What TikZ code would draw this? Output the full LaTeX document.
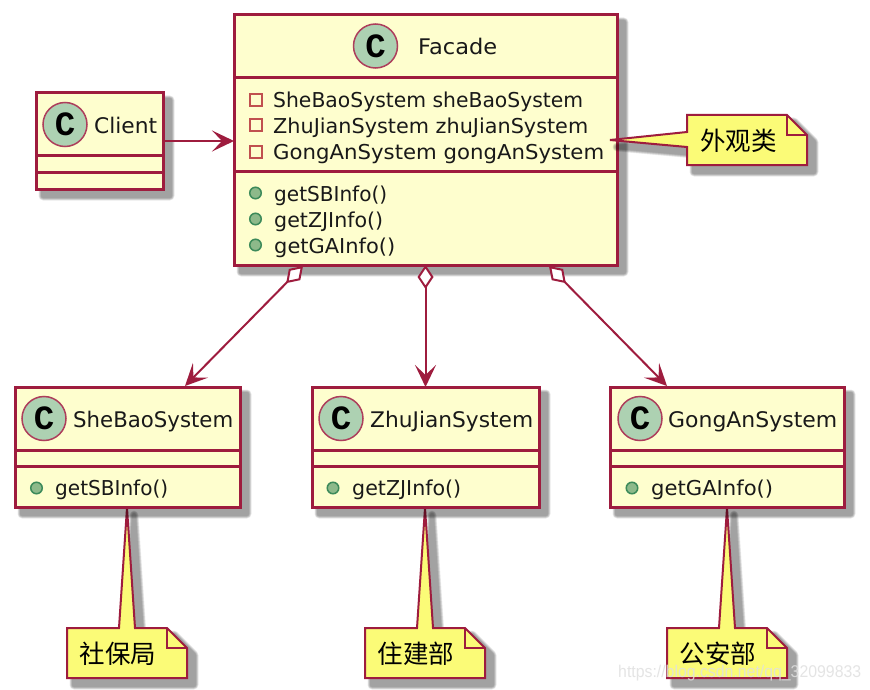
\documentclass[tikz,border=0pt]{standalone}
\usepackage{graphicx}
\usepackage{fontspec}
\setmainfont{DejaVu Sans}
\newfontfamily\cjk{Noto Sans CJK SC}
\newfontfamily\spotfont{Liberation Mono}
\newfontfamily\markfont{Liberation Sans}
\usetikzlibrary{arrows.meta}
\definecolor{umlred}{HTML}{9E1C3E}
\definecolor{classbg}{HTML}{FEFECE}
\definecolor{notebg}{HTML}{FBFB77}
\definecolor{spotbg}{HTML}{ADD1B2}
\definecolor{privred}{HTML}{C0504F}
\definecolor{pubgreen}{HTML}{8DB98A}
\definecolor{pubedge}{HTML}{3C8A5A}
\tikzset{
  x=1pt,y=-1pt,
  classbox/.style={draw=umlred,fill=classbg,line width=3pt,anchor=north west,inner sep=0pt,outer sep=0pt},
  sepline/.style={draw=umlred,line width=3pt},
  notebody/.style={draw=umlred,fill=notebg,line width=2pt,line join=miter},
  notetext/.style={font=\cjk\fontsize{25.5}{25.5}\selectfont,anchor=center,inner sep=0pt},
  label/.style={font=\fontsize{20.5}{24}\selectfont,anchor=base west,inner sep=0pt,text=black!90},
  title/.style={label,font=\fontsize{21.5}{24}\selectfont},
  spot/.style={circle,draw=umlred!85,fill=spotbg,line width=1.5pt,minimum size=44pt,inner sep=0pt,font=\spotfont\bfseries\fontsize{34}{34}\selectfont},
  privmark/.style={draw=privred,line width=2pt,minimum size=12pt,inner sep=0pt},
  pubmark/.style={circle,draw=pubedge,fill=pubgreen,line width=1.5pt,minimum size=11.5pt,inner sep=0pt},
  assoc/.style={draw=umlred,line width=2pt},
  headtip/.style={-{Stealth[length=22pt,width=21pt,inset=10pt,fill=umlred]}},
  aggtip/.style={{Diamond[open,length=24pt,width=16pt,fill=white,line width=2pt]}-{Stealth[length=22pt,width=21pt,inset=10pt,fill=umlred]}},
}
\newcommand\fitw[2]{\resizebox{#1pt}{\height}{#2}}
\newcommand\softshadow[1]{%
  \foreach \w in {9,8,7,6,5,4}{%
    \begin{scope}[transparency group,opacity=.07]
    \path[fill=black,draw=black,line width=\w pt,line join=round,shift={(7,7)}] #1;
    \end{scope}}}
\newcommand\umlclass[7]{% name x1 y1 x2 y2 sep1 sep2
  \softshadow{(#2,#3) rectangle (#4,#5)}
  \pgfmathsetmacro\bw{#4-#2}\pgfmathsetmacro\bh{#5-#3}
  \node[classbox,minimum width=\bw pt,minimum height=\bh pt] (#1) at (#2,#3) {};
  \draw[sepline] (#2,#6) -- (#4,#6);
  \draw[sepline] (#2,#7) -- (#4,#7);
}
\newcommand\bottomnote[3]{% name x text
  \softshadow{(#2,628) -- (#2+52,628) -- (#2+60,508) -- (#2+68,628) -- (#2+100,628) -- (#2+120,648) -- (#2+120,678) -- (#2,678) -- cycle}
  \draw[notebody] (#2,628) -- (#2+52,628) -- (#2+60,508) -- (#2+68,628) -- (#2+100,628) -- (#2+120,648) -- (#2+120,678) -- (#2,678) -- cycle;
  \draw[notebody,fill=none] (#2+100,628) -- (#2+100,648) -- (#2+120,648);
  \node[notetext] (#1) at (#2+51,654) {#3};
}
\begin{document}
\begin{tikzpicture}
\useasboundingbox (0,0) rectangle (870,690);
\fill[white] (0,0) rectangle (870,690);

% bottom notes first (their tails run behind the classes)
\bottomnote{noteSB}{67}{社保局}
\bottomnote{noteZJ}{365}{住建部}
\bottomnote{noteGA}{667}{公安部}

% classes
\umlclass{facade}{234}{15}{617}{265}{78}{171}
\umlclass{client}{36}{93}{163}{189}{156}{172}
\umlclass{shebao}{15}{387}{240}{507}{450}{466}
\umlclass{zhujian}{312}{387}{539}{507}{450}{466}
\umlclass{gongan}{610}{387}{844}{507}{450}{466}

% spots
\node[spot] (spotF) at (375.5,46) {C};
\node[spot] (spotC) at (65,124.5) {C};
\node[spot] (spotS) at (44,418.5) {C};
\node[spot] (spotZ) at (341,418.5) {C};
\node[spot] (spotG) at (640,418.5) {C};

% class names
\node[title] (nF) at (418,55) {\fitw{79}{Facade}};
\node[title] (nC) at (94,133) {\fitw{63}{Client}};
\node[title] (nS) at (73,427) {\fitw{160}{SheBaoSystem}};
\node[title] (nZ) at (370,427) {\fitw{163}{ZhuJianSystem}};
\node[title] (nG) at (668,427) {\fitw{169}{GongAnSystem}};

% Facade fields
\node[privmark] (pf1) at (255.5,100.5) {};
\node[privmark] (pf2) at (255.5,125.5) {};
\node[privmark] (pf3) at (255.5,151.7) {};
\node[label] (tf1) at (273,108) {\fitw{310}{SheBaoSystem sheBaoSystem}};
\node[label] (tf2) at (273,134) {\fitw{315}{ZhuJianSystem zhuJianSystem}};
\node[label] (tf3) at (273,159.5) {\fitw{331}{GongAnSystem gongAnSystem}};

% Facade methods
\node[pubmark] (mf1) at (255.5,193) {};
\node[pubmark] (mf2) at (255.5,219) {};
\node[pubmark] (mf3) at (255.5,245) {};
\node[label] (tm1) at (274,201) {\fitw{113}{getSBInfo()}};
\node[label] (tm2) at (274,227) {\fitw{109}{getZJInfo()}};
\node[label] (tm3) at (274,253) {\fitw{121}{getGAInfo()}};

% subsystem methods
\node[pubmark] (mS) at (36.5,488) {};
\node[label] (tS) at (55,495) {\fitw{113}{getSBInfo()}};
\node[pubmark] (mZ) at (333,488) {};
\node[label] (tZ) at (352,495) {\fitw{109}{getZJInfo()}};
\node[pubmark] (mG) at (632,488) {};
\node[label] (tG) at (651,495) {\fitw{122}{getGAInfo()}};

% connectors
\coordinate (fL) at (303,266);
\coordinate (fR) at (549,266);
\coordinate (sT) at (185,386);
\coordinate (gT) at (667,386);
\draw[assoc,headtip] (client.east) -- (client.east -| facade.west);
\draw[assoc,aggtip] (fL) -- (sT);
\draw[assoc,aggtip] (facade.south) -- (zhujian.north);
\draw[assoc,aggtip] (fR) -- (gT);

% Facade note
\softshadow{(687,115) -- (787,115) -- (807,135) -- (807,165) -- (687,165) -- (687,147) -- (610,140) -- (687,132) -- cycle}
\draw[notebody] (687,115) -- (787,115) -- (807,135) -- (807,165) -- (687,165) -- (687,147) -- (610,140) -- (687,132) -- cycle;
\draw[notebody,fill=none] (787,115) -- (787,135) -- (807,135);
\node[notetext] (noteF) at (738.5,141) {外观类};

% watermark
\node[font=\markfont\fontsize{17}{18}\selectfont,anchor=base west,inner sep=0pt,text=black!12,opacity=.85] (mark) at (618,677) {\fitw{243}{https://blog.csdn.net/qq\_32099833}};
\end{tikzpicture}
\end{document}
